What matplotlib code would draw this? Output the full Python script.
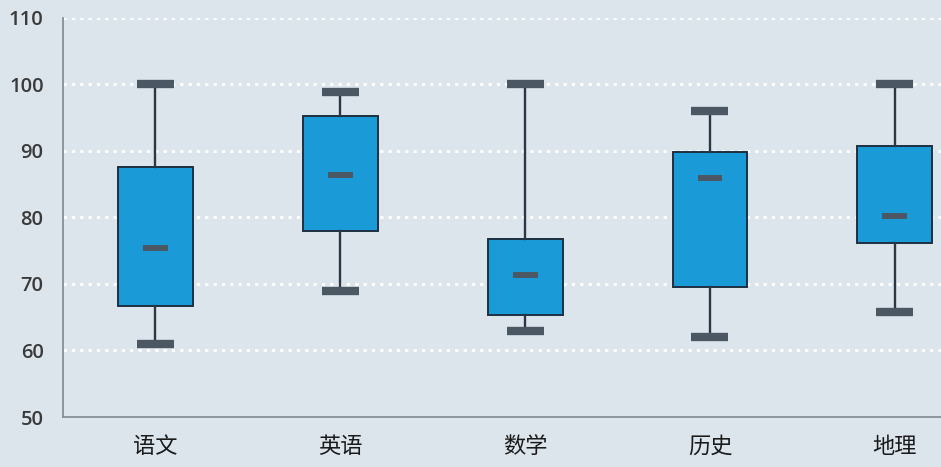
import matplotlib
matplotlib.use("Agg")
import matplotlib.pyplot as plt

plt.rcParams['font.family'] = ['Noto Sans CJK SC', 'DejaVu Sans']

subjects = ["语文", "英语", "数学", "历史", "地理"]
mins = [61.0, 69.0, 63.0, 62.0, 65.8]
q1s = [66.7, 78.0, 65.3, 69.5, 76.2]
medians = [75.4, 86.4, 71.4, 85.9, 80.2]
q3s = [87.6, 95.3, 76.8, 89.8, 90.8]
maxs = [100.0, 98.9, 100.0, 96.0, 100.0]
y_ticks = [50, 60, 70, 80, 90, 100, 110]

bg = '#dce4ec'
fig = plt.figure(figsize=(9.41, 4.67), dpi=100, facecolor=bg)
ax = fig.add_axes([0.067, 0.107, 0.933, 0.855], facecolor=bg)

stats = []
for i, s in enumerate(subjects):
    stats.append(dict(label=s, whislo=mins[i], q1=q1s[i], med=medians[i],
                      q3=q3s[i], whishi=maxs[i], fliers=[]))

pos = list(range(1, len(subjects) + 1))
ax.bxp(stats, positions=pos, widths=0.405, patch_artist=True,
       showfliers=False, capwidths=0.2,
       boxprops=dict(facecolor='#1a9bd7', edgecolor='#1e3040', linewidth=1.4),
       whiskerprops=dict(color='#2b3742', linewidth=1.7),
       capprops=dict(color='#4b5864', linewidth=6, solid_capstyle='butt'),
       medianprops=dict(linewidth=0), zorder=3)

# short median dashes
ax.hlines(medians, [p - 0.067 for p in pos], [p + 0.067 for p in pos],
          color='#4b5864', linewidth=4.3, zorder=4)

ax.set_xlim(0.5, 5.25)
ax.set_ylim(50, 110)
ax.set_yticks(y_ticks)
ax.set_yticklabels([str(v) for v in y_ticks], family=['Open Sans', 'DejaVu Sans'],
                   fontsize=14.5, fontweight='semibold', color='#3a3a3a')
ax.set_xticks(pos)
ax.set_xticklabels(subjects, fontsize=16, color='#1a1a1a', fontweight='medium')
ax.tick_params(axis='y', length=0, pad=14)
ax.tick_params(axis='x', length=0, pad=13)

for v in y_ticks[1:]:
    ax.axhline(v, color='white', linewidth=2, linestyle=(0, (1.2, 1.8)), zorder=1)

for sp in ['top', 'right']:
    ax.spines[sp].set_visible(False)
for sp in ['left', 'bottom']:
    ax.spines[sp].set_color('#868f98')
    ax.spines[sp].set_linewidth(1.3)

fig.savefig("out.png", dpi=100, facecolor=bg)
